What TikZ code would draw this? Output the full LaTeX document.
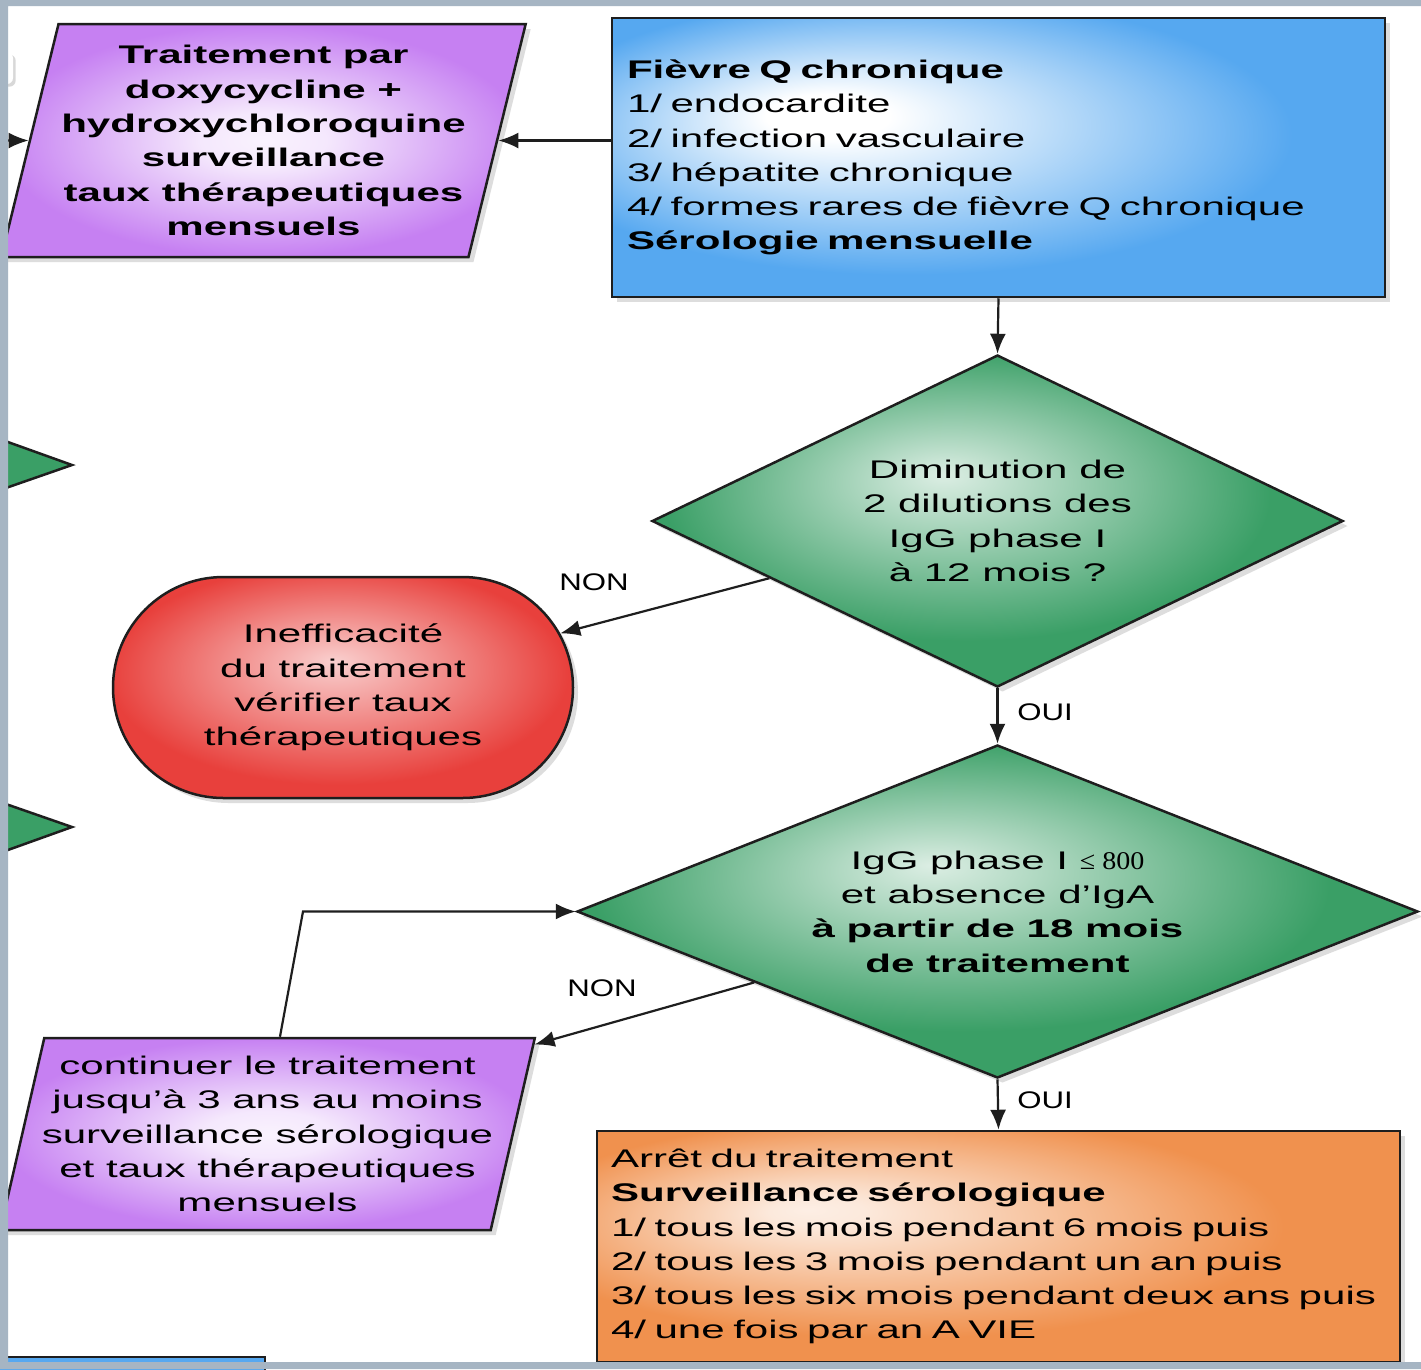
\documentclass[tikz,border=0pt]{standalone}
\usepackage{fontspec}
\setmainfont{Liberation Sans}[FakeStretch=1.65]
\newfontfamily\lblfont{Liberation Sans}[FakeStretch=1.3]
\newfontfamily\numfont{Liberation Serif}[FakeStretch=1.1]
\usetikzlibrary{shapes.geometric,shapes.misc,arrows.meta,shadows,calc}

\definecolor{bluefill}{HTML}{56A8F0}
\definecolor{purfill}{HTML}{C680F2}
\definecolor{greenfill}{HTML}{3A9F66}
\definecolor{redfill}{HTML}{E8403C}
\definecolor{orafill}{HTML}{F0914E}
\definecolor{edge}{HTML}{1E1E1E}
\definecolor{frame}{HTML}{A6B5C3}

\pgfdeclareradialshading{blueshade}{\pgfpoint{-12bp}{8bp}}{color(0bp)=(white); color(4bp)=(white); color(25bp)=(bluefill); color(50bp)=(bluefill)}
\pgfdeclareradialshading{purshade}{\pgfpoint{0bp}{0bp}}{color(0bp)=(white!90!purfill); color(6bp)=(white!82!purfill); color(25bp)=(purfill); color(50bp)=(purfill)}
\pgfdeclareradialshading{greenshade}{\pgfpoint{-4bp}{7bp}}{color(0bp)=(white!82!greenfill); color(22bp)=(greenfill); color(50bp)=(greenfill)}
\pgfdeclareradialshading{redshade}{\pgfpoint{-1bp}{6bp}}{color(0bp)=(white!75!redfill); color(25bp)=(redfill); color(50bp)=(redfill)}
\pgfdeclareradialshading{orashade}{\pgfpoint{-12bp}{8bp}}{color(0bp)=(white!85!orafill); color(3bp)=(white!80!orafill); color(24bp)=(orafill); color(50bp)=(orafill)}

\tikzset{
  box/.style={draw=edge, line width=2.5pt, inner sep=0pt,
    font=\fontsize{25.5pt}{34.3pt}\selectfont,
    drop shadow={shadow xshift=5pt, shadow yshift=-5pt, opacity=.22, fill=black!60}},
  listbox/.style={box, rectangle, align=left},
  purbox/.style={box, trapezium, trapezium stretches=true, shading=purshade,
    align=center, inner xsep=-12pt},
  decision/.style={box, diamond, shading=greenshade, align=center},
  arr/.style={draw=edge, line width=2.2pt, -{Latex[length=20pt,width=16pt]}},
  lbl/.style={font=\lblfont\fontsize{24pt}{28pt}\selectfont, inner sep=0pt},
  frag/.style={draw=edge, line width=2.5pt}
}

\begin{document}
\begin{tikzpicture}[x=1pt,y=-1pt]
\useasboundingbox (0,0) rectangle (1421,1369);
\fill[white] (0,0) rectangle (1421,1369);

% bits of the chart that lie off the left edge
\fill[white, rounded corners=6pt, drop shadow={opacity=.3}] (-12,52) rectangle (13,84);
\path[frag, fill=greenfill] (-20,432) -- (72,465) -- (-20,497) -- cycle;
\path[frag, fill=greenfill] (-20,795) -- (72,827) -- (-20,860) -- cycle;
\path[frag, fill=bluefill] (-10,1357) rectangle (265,1400);

% boxes
\node[listbox, shading=blueshade, minimum width=773pt, minimum height=279pt,
  text width=743pt] (blue) at (998.5,157.5)
  {\textbf{Fièvre Q chronique}\\
   1/ endocardite\\
   2/ infection vasculaire\\
   3/ hépatite chronique\\
   4/ formes rares de fièvre Q chronique\\
   \textbf{Sérologie mensuelle}};

\node[purbox, trapezium left angle=74.4, trapezium right angle=105.6,
  minimum width=527pt, minimum height=233pt] (trt) at (263.5,140.5)
  {\textbf{Traitement par}\\
   \textbf{doxycycline +}\\
   \textbf{hydroxychloroquine}\\
   \textbf{surveillance}\\
   \textbf{taux thérapeutiques}\\
   \textbf{mensuels}};

\node[decision, aspect=2.08, minimum width=691pt, minimum height=332pt] (dia1) at (997.5,521)
  {Diminution de\\ 2 dilutions des\\ IgG phase I\\ à 12 mois ?};

\node[box, rounded rectangle, shading=redshade, align=center, inner xsep=0pt,
  minimum width=460pt, minimum height=221pt] (red) at (343,687.5)
  {Inefficacité\\ du traitement\\ vérifier taux\\ thérapeutiques};

\node[decision, aspect=2.53, minimum width=841pt, minimum height=333pt] (dia2) at (997.5,911.5)
  {IgG phase I {\numfont ≤ 800}\\ et absence d'IgA\\
   \textbf{à partir de 18 mois}\\ \textbf{de traitement}};

\node[purbox, trapezium left angle=74.85, trapezium right angle=105.15,
  minimum width=539pt, minimum height=192pt] (pur2) at (267.5,1134)
  {continuer le traitement\\
   jusqu'à 3 ans au moins\\
   surveillance sérologique\\
   et taux thérapeutiques\\
   mensuels};

\node[listbox, shading=orashade, minimum width=803pt, minimum height=231pt,
  text width=775pt] (stop) at (998.5,1246.5)
  {Arrêt du traitement\\
   \textbf{Surveillance sérologique}\\
   1/ tous les mois pendant 6 mois puis\\
   2/ tous les 3 mois pendant un an puis\\
   \mbox{3/ tous les six mois pendant deux ans puis}\\
   4/ une fois par an A VIE};

% connectors
\coordinate (inleft) at (0,140.5);
\coordinate (bend) at (303,911.5);
\draw[arr] (inleft) -- (trt.west);
\draw[arr] (blue.west |- trt.east) -- (trt.east);
\draw[arr] (blue.south) -- (dia1.north);
\draw[arr] ($(dia1.west)!0.342!(dia1.south)$) -- (red.14.5);
\draw[arr] (dia1.south) -- (dia2.north);
\draw[arr] ($(dia2.west)!0.423!(dia2.south)$) --
  ($(pur2.top right corner)!0.04!(pur2.bottom right corner)$);
\draw[arr] ($(pur2.top left corner)!0.48!(pur2.top right corner)$) -- (bend) -- (dia2.west);
\draw[arr] (dia2.south) -- (stop.north);

% labels
\node[lbl] (non1) at (594,582) {NON};
\node[lbl] (oui1) at (1045,712) {OUI};
\node[lbl] (non2) at (602,988) {NON};
\node[lbl] (oui2) at (1045,1100) {OUI};

% slide frame
\fill[frame, even odd rule] (0,0) rectangle (1421,1369) (8,6) rectangle (1421,1362);
\end{tikzpicture}
\end{document}
